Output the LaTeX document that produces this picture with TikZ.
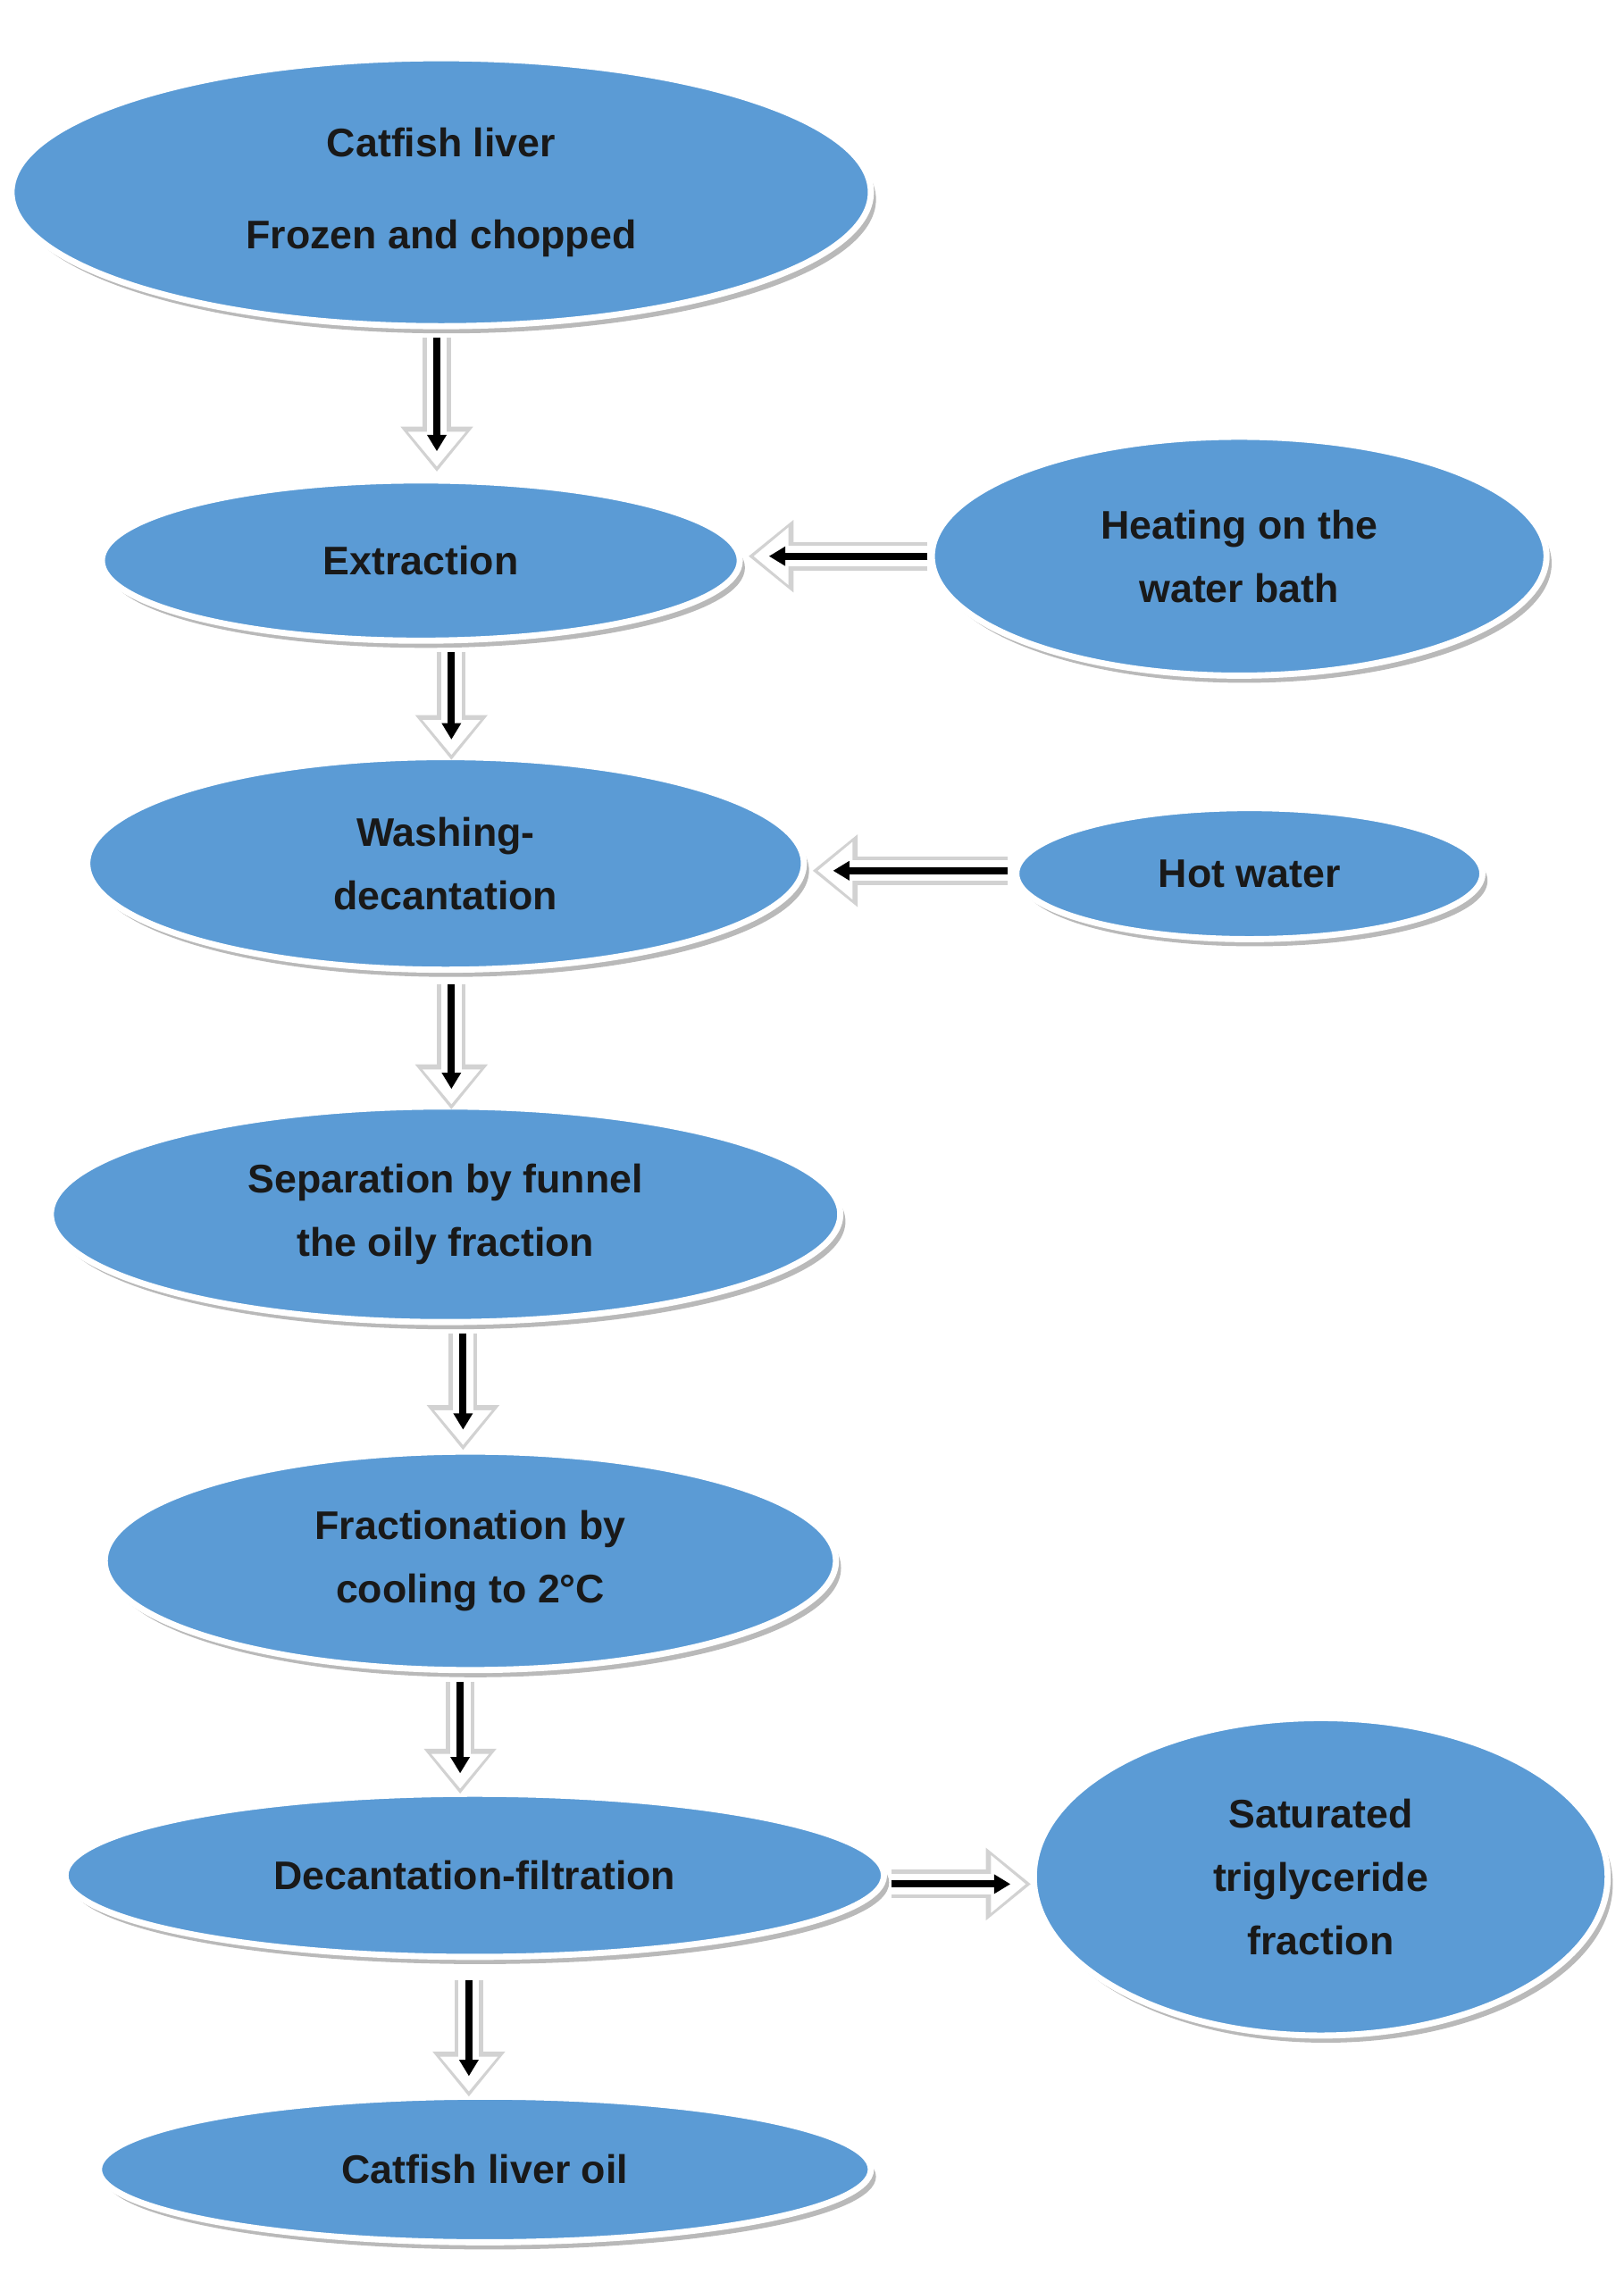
\documentclass[tikz,border=0pt]{standalone}
\usepackage{fontspec}
\setmainfont{Liberation Sans}
\usetikzlibrary{arrows.meta,calc,shapes.geometric}
\definecolor{fillb}{RGB}{91,155,213}
\def\u{0.7113pt}
\begin{document}
\begin{tikzpicture}[x=0.025cm,y=-0.025cm,
  bub/.style={ellipse,draw=white,line width=3pt,fill=fillb,font=\bfseries\fontsize{19.5}{31}\selectfont,align=center,text=black!90,inner sep=0pt,
     preaction={fill=gray!55,transform canvas={shift={(2.5pt,-3.5pt)}}}},
  hol/.style={line width=14pt,draw=gray!35,-{Triangle[length=22pt,width=34pt]}},
  holw/.style={line width=10pt,draw=white,-{Triangle[length=17pt,width=27pt]},shorten >=2.5pt},
  blk/.style={line width=3.5pt,draw=black,-{Triangle[length=8pt,width=9pt]},shorten >=10pt}]
\useasboundingbox (0,0) rectangle (1115,1568);
\node[bub,minimum width=590*\u,minimum height=184*\u] (n1) at (303,132) {Catfish liver\\[14pt]Frozen and chopped};
\node[bub,minimum width=438*\u,minimum height=110*\u] (n2) at (289,385) {Extraction};
\node[bub,minimum width=422*\u,minimum height=164*\u] (n3) at (851,382) {Heating on the\\water bath};
\node[bub,minimum width=492*\u,minimum height=146*\u] (n4) at (306,593) {Washing-\\decantation};
\node[bub,minimum width=320*\u,minimum height=90*\u] (n5) at (858,600) {Hot water};
\node[bub,minimum width=542*\u,minimum height=148*\u] (n6) at (306,834) {Separation by funnel\\the oily fraction};
\node[bub,minimum width=502*\u,minimum height=150*\u] (n7) at (323,1072) {Fractionation by\\cooling to 2°C};
\node[bub,minimum width=562*\u,minimum height=112*\u] (n8) at (326,1288) {Decantation-filtration};
\node[bub,minimum width=394*\u,minimum height=218*\u] (n9) at (907,1289) {Saturated\\triglyceride\\fraction};
\node[bub,minimum width=530*\u,minimum height=100*\u] (n10) at (333,1490) {Catfish liver oil};
\def\arr#1#2{\draw[hol] #1 -- #2; \draw[holw] #1 -- #2; \draw[blk] #1 -- #2;}
\coordinate (a1s) at (300,232); \coordinate (a1e) at (300,324);
\coordinate (a2s) at (310,448); \coordinate (a2e) at (310,522);
\coordinate (a3s) at (310,676); \coordinate (a3e) at (310,762);
\coordinate (a4s) at (318,916); \coordinate (a4e) at (318,996);
\coordinate (a5s) at (316,1155); \coordinate (a5e) at (316,1232);
\coordinate (a6s) at (322,1360); \coordinate (a6e) at (322,1440);
\coordinate (h1s) at (637,382); \coordinate (h1e) at (514,382);
\coordinate (h2s) at (692,598); \coordinate (h2e) at (558,598);
\coordinate (h3s) at (612,1294); \coordinate (h3e) at (708,1294);
\arr{(a1s)}{(a1e)}\arr{(a2s)}{(a2e)}\arr{(a3s)}{(a3e)}\arr{(a4s)}{(a4e)}
\arr{(a5s)}{(a5e)}\arr{(a6s)}{(a6e)}
\arr{(h1s)}{(h1e)}\arr{(h2s)}{(h2e)}\arr{(h3s)}{(h3e)}
\end{tikzpicture}
\end{document}
